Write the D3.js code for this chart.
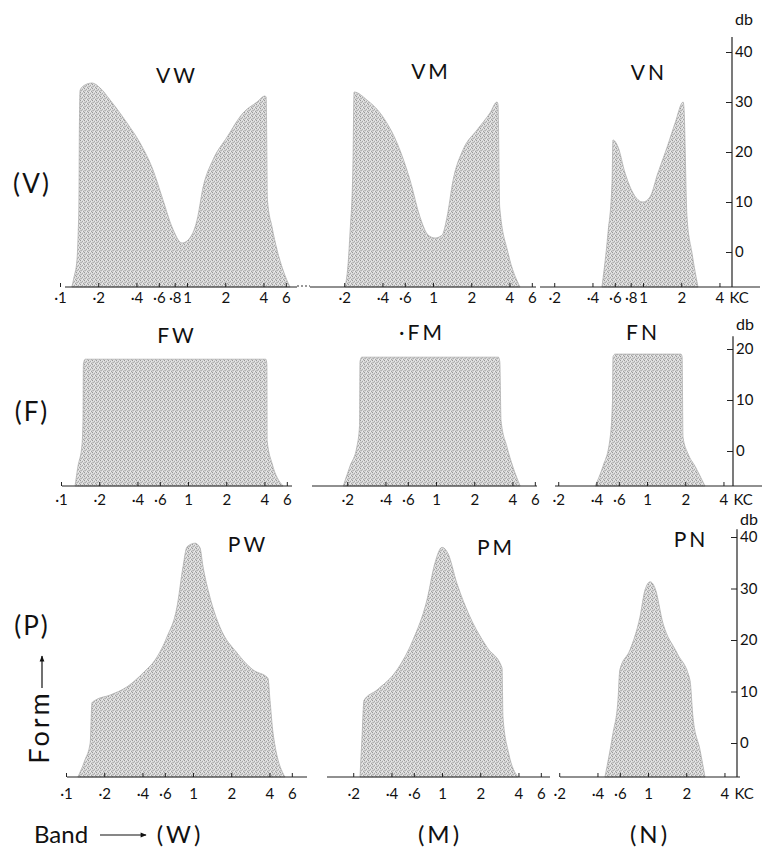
<!DOCTYPE html>
<html>
<head>
<meta charset="utf-8">
<script src="https://cdn.jsdelivr.net/npm/d3@7"></script>
<style>
  body { margin: 0; background: #fff; }
  text { font-family: Lato, "DejaVu Sans", sans-serif; font-weight: 400; fill: #111; }
</style>
</head>
<body>
<svg id="fig" width="764" height="850"></svg>
<script>
// Spectra: [frequency in kc, level in db]; -7 = down at the baseline
const VW = [[0.124,-7],[0.129,-5],[0.136,-1.6],[0.139,3.8],[0.141,10.4],[0.142,24],[0.144,32.4],[0.157,33.4],[0.179,33.8],[0.207,32.8],[0.248,30.4],[0.337,25.8],[0.427,21.8],[0.54,16.4],[0.647,10.4],[0.762,5],[0.914,1.8],[1.02,2.4],[1.2,6.4],[1.34,13],[1.6,18.4],[2.07,23],[2.76,27.8],[3.56,30],[4.11,31.2],[4.2,31],[4.3,10.4],[4.67,5],[5.12,0.4],[5.7,-3.6],[6.47,-7]];
const VM = [[0.203,-7],[0.215,-2],[0.222,3.8],[0.234,17],[0.239,32],[0.302,30.4],[0.404,27],[0.521,21.8],[0.659,14.4],[0.79,7],[0.914,3.4],[1.04,2.8],[1.18,3.4],[1.29,7],[1.44,14.4],[1.72,20.4],[2.22,24.4],[2.81,27.8],[3.19,30],[3.25,29.5],[3.35,9],[3.9,-0.2],[4.84,-7]];
const VN = [[0.475,-7],[0.53,3.8],[0.57,13.8],[0.58,22.4],[0.636,21],[0.722,15.8],[0.834,11.8],[1,10],[1.135,11],[1.31,15.8],[1.55,21],[1.79,25.8],[2.07,30],[2.1,29],[2.22,7],[2.43,-0.2],[2.71,-7]];

const FW = [[0.129,-7],[0.136,-3],[0.146,1],[0.149,6],[0.15,17],[0.155,18],[4.1,18],[4.18,17],[4.2,2],[4.6,-2.5],[5.6,-7]];
const FM = [[0.186,-7],[0.21,-3],[0.239,1],[0.25,5],[0.252,17.5],[0.26,18.4],[3.1,18.4],[3.18,17.5],[3.25,6],[3.62,0.8],[4.03,-3.1],[4.6,-7]];
const FN = [[0.39,-7],[0.45,-3],[0.51,2.2],[0.535,10],[0.54,18.5],[0.56,19],[1.85,19],[1.89,18.5],[1.92,2.7],[2.1,-0.5],[2.39,-3],[2.86,-7]];

const PW = [[0.124,-7],[0.141,-3.3],[0.155,0],[0.16,7.8],[0.17,8.3],[0.222,9.3],[0.302,10.9],[0.404,13.6],[0.521,16.7],[0.624,20.6],[0.748,26.4],[0.834,34.2],[0.897,38.1],[1.04,38.8],[1.135,37.9],[1.2,34.2],[1.36,28.3],[1.63,22.5],[2.22,17.5],[2.97,14.2],[3.89,12.6],[4.04,8.3],[4.27,1.9],[5.3,-7]];
const PM = [[0.226,-7],[0.234,0.6],[0.243,8.3],[0.308,10.3],[0.442,14.2],[0.591,20],[0.762,27.8],[0.881,35],[1,38],[1.11,36.9],[1.31,31],[1.66,24.5],[2.26,18.6],[2.97,14.6],[3.02,5],[3.35,-2],[3.97,-7]];
const PN = [[0.458,-7],[0.53,1.9],[0.58,8.3],[0.6,14.2],[0.722,18.1],[0.865,24.5],[0.947,29.7],[1.04,31.3],[1.135,30.1],[1.31,23.3],[1.69,17.5],[2.14,12.2],[2.26,5],[2.57,-1.4],[2.81,-7]];

// kc tick labels under each panel
const TICKS_VW = [0.1,0.2,0.4,0.6,0.8,1,2,4,6];
const TICKS_VM = [0.2,0.4,0.6,1,2,4,6];
const TICKS_VN = [0.2,0.4,0.6,0.8,1,2,4];
const TICKS_W = [0.1,0.2,0.4,0.6,1,2,4,6];
const TICKS_M = [0.2,0.4,0.6,1,2,4,6];
const TICKS_N = [0.2,0.4,0.6,1,2,4];

// db ticks on the right-hand scale of each row
const DB_V = [0,10,20,30,40];
const DB_F = [0,10,20];
const DB_P = [0,10,20,30,40];

const ROW_LABELS = ["(V)","(F)","(P)"];
const BAND_LABELS = ["(W)","(M)","(N)"];

// layout (pixels)
const DECADE = 127;
const ROWS = [
  {label: ROW_LABELS[0], labelY: 186, y0: 252, ppd: 5.0, base: 287, pad: 5, dbX: 732, dbTop: 43, dbTicks: DB_V, dbY: 25,
   panels: [
     {name: "VW", data: VW, ticks: TICKS_VW, x1: 187, ext: [65, 297], tx: 177, ty: 83},
     {name: "VM", data: VM, ticks: TICKS_VM, x1: 433, ext: [310, 536], tx: 431, ty: 79},
     {name: "VN", data: VN, ticks: TICKS_VN, x1: 643, ext: [540, 760], tx: 649, ty: 80, kc: true}]},
  {label: ROW_LABELS[1], labelY: 414, y0: 451, ppd: 5.1, base: 486, pad: 8, dbX: 733, dbTop: 22.5, dbTicks: DB_F, dbY: 330,
   panels: [
     {name: "FW", data: FW, ticks: TICKS_W, x1: 188, ext: [62, 292], tx: 177, ty: 343},
     {name: "·FM", data: FM, ticks: TICKS_M, x1: 436, ext: [312, 537], tx: 422, ty: 340},
     {name: "FN", data: FN, ticks: TICKS_N, x1: 647, ext: [555, 762], tx: 643, ty: 340, kc: true}]},
  {label: ROW_LABELS[2], labelY: 628, y0: 743, ppd: 5.15, base: 777, pad: 11, dbX: 737, dbTop: 41.5, dbTicks: DB_P, dbY: 525,
   panels: [
     {name: "PW", data: PW, ticks: TICKS_W, x1: 193, ext: [67, 307], tx: 248, ty: 552},
     {name: "PM", data: PM, ticks: TICKS_M, x1: 442, ext: [327, 550], tx: 496, ty: 555},
     {name: "PN", data: PN, ticks: TICKS_N, x1: 648, ext: [560, 740], tx: 691, ty: 547, kc: true}]}
];
const BAND_X = [180, 440, 650];

const svg = d3.select("#fig");
const defs = svg.append("defs");

// halftone-like stipple
const pat = defs.append("pattern").attr("id", "stipple")
  .attr("width", 4).attr("height", 4).attr("patternUnits", "userSpaceOnUse");
pat.append("rect").attr("width", 4).attr("height", 4).attr("fill", "#d6d6d6");
[[0,0,"#989898"],[2,1,"#a8a8a8"],[1,2,"#b0b0b0"],[3,3,"#a2a2a2"],[2,3,"#eeeeee"],[3,1,"#e8e8e8"],[0,2,"#c0c0c0"],[1,0,"#e4e4e4"]]
  .forEach(([px, py, c]) => pat.append("rect").attr("x", px).attr("y", py).attr("width", 1).attr("height", 1).attr("fill", c));

defs.append("marker").attr("id", "arrow").attr("viewBox", "0 0 10 10")
  .attr("refX", 9).attr("refY", 5).attr("markerWidth", 7).attr("markerHeight", 6)
  .attr("orient", "auto").attr("markerUnits", "userSpaceOnUse")
  .append("path").attr("d", "M0,1 L10,5 L0,9 Z").attr("fill", "#111");

const fmt = v => v < 1 ? "·" + Math.round(v * 10) : String(v);

ROWS.forEach(row => {
  const y = d3.scaleLinear().domain([0, 10]).range([row.y0, row.y0 - 10 * row.ppd]);

  row.panels.forEach(p => {
    const x = d3.scaleLog().domain([1, 10]).range([p.x1, p.x1 + DECADE]);
    const g = svg.append("g");

    const area = d3.area()
      .x(d => x(d[0]))
      .y0(row.base)
      .y1(d => Math.min(row.base, y(d[1])))
      .curve(d3.curveMonotoneX);

    g.append("path").datum(p.data)
      .attr("d", area)
      .attr("fill", "url(#stipple)")
      .attr("stroke", "#a8a8a8")
      .attr("stroke-width", 0.7);

    g.append("line")
      .attr("x1", p.ext[0]).attr("x2", p.ext[1])
      .attr("y1", row.base).attr("y2", row.base)
      .attr("stroke", "#222").attr("stroke-width", 1.2);

    const ax = d3.axisBottom(x).tickValues(p.ticks).tickFormat(fmt)
      .tickSizeInner(-4).tickSizeOuter(0).tickPadding(row.pad);
    const ag = g.append("g").attr("transform", `translate(0,${row.base})`).call(ax);
    ag.select(".domain").remove();
    ag.attr("font-size", 15);
    ag.selectAll(".tick line").attr("stroke", "#222");

    if (p.kc) {
      g.append("text").attr("x", x(4) + 10).attr("y", row.base + row.pad)
        .attr("dy", "0.71em").attr("font-size", 15).text("KC");
    }

    g.append("text").attr("x", p.tx).attr("y", p.ty)
      .attr("text-anchor", "middle").attr("font-size", 21)
      .attr("letter-spacing", 3).text(p.name);
  });

  // db scale on the right
  const yAx = d3.axisRight(y).tickValues(row.dbTicks).tickFormat(d3.format("d"))
    .tickSizeInner(-6).tickSizeOuter(0).tickPadding(3);
  const dg = svg.append("g").attr("transform", `translate(${row.dbX},0)`).call(yAx);
  dg.select(".domain").remove();
  dg.attr("font-size", 15);
  dg.selectAll(".tick line").attr("stroke", "#222");
  dg.append("line").attr("y1", y(row.dbTop)).attr("y2", row.base)
    .attr("stroke", "#222").attr("stroke-width", 1.2);
  svg.append("text").attr("x", row.dbX + 12).attr("y", row.dbY)
    .attr("text-anchor", "middle").attr("font-size", 16).text("db");

  svg.append("text").attr("x", 32).attr("y", row.labelY)
    .attr("text-anchor", "middle").attr("dominant-baseline", "middle")
    .attr("font-size", 26).attr("letter-spacing", 2).text(row.label);
});

// dashed bridge between VW and VM axes
svg.append("line").attr("x1", 297).attr("x2", 310).attr("y1", 286).attr("y2", 286)
  .attr("stroke", "#333").attr("stroke-dasharray", "2,2");

// Form ↑
svg.append("text").attr("transform", "translate(49,727) rotate(-90)")
  .attr("text-anchor", "middle").attr("font-size", 27).attr("letter-spacing", 3).text("Form");
svg.append("line").attr("x1", 42).attr("x2", 42).attr("y1", 688).attr("y2", 656)
  .attr("stroke", "#111").attr("stroke-width", 1.2).attr("marker-end", "url(#arrow)");

// Band ——→ (W) (M) (N)
svg.append("text").attr("x", 34).attr("y", 843).attr("font-size", 24).text("Band");
svg.append("line").attr("x1", 100).attr("x2", 146).attr("y1", 835).attr("y2", 835)
  .attr("stroke", "#111").attr("stroke-width", 1.2).attr("marker-end", "url(#arrow)");
BAND_LABELS.forEach((t, i) => {
  svg.append("text").attr("x", BAND_X[i]).attr("y", 843)
    .attr("text-anchor", "middle").attr("font-size", 24).attr("letter-spacing", 3).text(t);
});
</script>
</body>
</html>
